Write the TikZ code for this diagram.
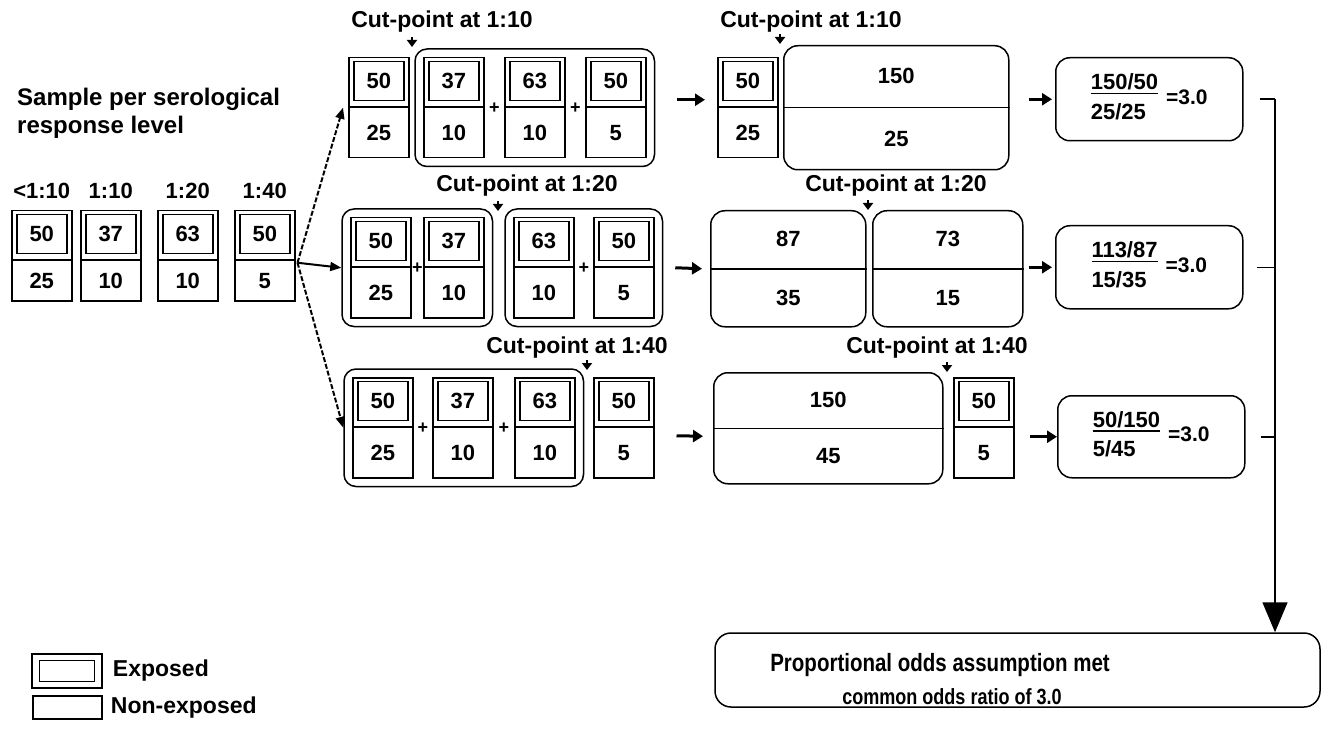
\documentclass[tikz,border=0pt]{standalone}
\usepackage{fontspec}
\setmainfont{Liberation Sans}
\newfontfamily\narrowfont{Liberation Sans}[FakeStretch=0.82]
\usetikzlibrary{arrows.meta,calc,fit,positioning}
\setlength{\arrayrulewidth}{1.5pt}

\tikzset{
  cellbox/.style={draw, line width=1.5pt, minimum width=60pt, minimum height=100pt, inner sep=0pt, anchor=north west},
  expbox/.style={draw, line width=1.5pt, minimum width=50pt, minimum height=39pt, inner sep=0pt},
  num/.style={font=\fontsize{22}{26}\selectfont\bfseries, inner sep=0pt},
  group/.style={draw, line width=1.5pt, rounded corners=12pt, inner sep=8pt},
  pool/.style={draw, line width=1.5pt, rounded corners=14pt, inner sep=0pt, anchor=north west},
  result/.style={draw, line width=1.5pt, rounded corners=14pt, minimum width=187pt, minimum height=83pt, anchor=north west, num},
  cutlabel/.style={font=\fontsize{23}{27}\selectfont\bfseries, inner sep=0pt},
  keytext/.style={font=\fontsize{23}{27}\selectfont\bfseries, inner sep=0pt},
  plus/.style={font=\fontsize{18}{18}\selectfont\bfseries, inner sep=0pt},
  cutmark/.style={line width=2.5pt, -{Triangle[length=7pt,width=10pt]}},
  fat/.style={line width=3pt, -{Triangle[length=10pt,width=12pt]}},
  fan/.style={line width=2pt, dash pattern=on 5pt off 2pt, -{Triangle[length=11pt,width=9pt]}},
}

% one serological level: exposed on top, non-exposed below
\newcommand{\gridcell}[6][100]{%
  \node[cellbox, minimum height=#1pt] (#2) at (#3,#4) {};
  \draw[line width=1.5pt] ([yshift=-50pt]#2.north west) -- ([yshift=-50pt]#2.north east);
  \node[expbox, num] (#2e) at ([yshift=-24pt]#2.north) {#5};
  \node[num] (#2n) at ($([yshift=-50pt]#2.north)!0.5!(#2.south)$) {#6};
}
% pooled levels
\newcommand{\poolbox}[7]{%
  \node[pool, minimum width=#4pt, minimum height=#5pt] (#1) at (#2,#3) {};
  \draw[line width=1.5pt] (#1.west) -- (#1.east);
  \node[num] (#1t) at ($(#1.north)!0.5!(#1.center)$) {#6};
  \node[num] (#1b) at ($(#1.south)!0.5!(#1.center)$) {#7};
}
\newcommand{\oddsratio}[2]{\begin{tabular}{@{}l@{}}#1\\[-5pt]\hline\rule{0pt}{25pt}#2\end{tabular}\hspace{8pt}{\fontsize{21}{25}\selectfont=3.0}}

\begin{document}
\begin{tikzpicture}[x=1pt,y=-1pt]
  \useasboundingbox (0,0) rectangle (1329,735);

  % sample per level
  \node[anchor=base west, align=left, inner sep=0pt, font=\fontsize{24}{28}\selectfont\bfseries] (title) at (17,134) {Sample per serological\\response level};
  \gridcell[90]{L1}{11}{210}{50}{25}
  \gridcell[90]{L2}{80}{210}{37}{10}
  \gridcell[90]{L3}{157}{210}{63}{10}
  \gridcell[90]{L4}{234}{210}{50}{5}
  \node[num, above=11pt of L1] (lv1) {<1:10};
  \node[num, above=11pt of L2] (lv2) {1:10};
  \node[num, above=11pt of L3] (lv3) {1:20};
  \node[num, above=11pt of L4] (lv4) {1:40};

  % cut-point at 1:10
  \gridcell{a1}{348}{57}{50}{25}
  \gridcell{a2}{423}{57}{37}{10}
  \gridcell{a3}{504}{57}{63}{10}
  \gridcell{a4}{585}{57}{50}{5}
  \node[group, fit=(a2)(a4)] (ga) {};
  \node[plus] (pa1) at ($(a2.east)!0.5!(a3.west)$) {+};
  \node[plus] (pa2) at ($(a3.east)!0.5!(a4.west)$) {+};
  \gridcell{a5}{717}{57}{50}{25}
  \poolbox{b1}{783}{45}{225}{124}{150}{25}
  \node[result] (res1) at (1055,57) {\oddsratio{150/50}{25/25}};

  % cut-point at 1:20
  \gridcell{c1}{350}{217}{50}{25}
  \gridcell{c2}{423}{217}{37}{10}
  \gridcell{c3}{513}{217}{63}{10}
  \gridcell{c4}{593}{217}{50}{5}
  \node[group, fit=(c1)(c2)] (gc1) {};
  \node[group, fit=(c3)(c4)] (gc2) {};
  \node[plus] (pc1) at ($(c1.east)!0.5!(c2.west)$) {+};
  \node[plus] (pc2) at ($(c3.east)!0.5!(c4.west)$) {+};
  \poolbox{d1}{710}{210}{155}{116}{87}{35}
  \poolbox{d2}{872}{210}{150}{116}{73}{15}
  \node[result] (res2) at (1055,225) {\oddsratio{113/87}{15/35}};

  % cut-point at 1:40
  \gridcell{e1}{352}{377}{50}{25}
  \gridcell{e2}{432}{377}{37}{10}
  \gridcell{e3}{514}{377}{63}{10}
  \gridcell{e4}{593}{377}{50}{5}
  \node[group, fit=(e1)(e3)] (ge) {};
  \node[plus] (pe1) at ($(e1.east)!0.5!(e2.west)$) {+};
  \node[plus] (pe2) at ($(e2.east)!0.5!(e3.west)$) {+};
  \poolbox{f1}{713}{372}{229}{111}{150}{45}
  \gridcell{e5}{953}{377}{50}{5}
  \node[result, minimum height=82pt] (res3) at (1057,395) {\oddsratio{50/150}{5/45}};

  % cut-point markers and labels
  \coordinate (k1) at (412,47);
  \coordinate (k2) at (780,44);
  \coordinate (k3) at (498,211);
  \coordinate (k4) at (868,210);
  \coordinate (k5) at (587,370);
  \coordinate (k6) at (947,372);
  \foreach \k in {k1,k2,k3,k4,k5,k6}
    \draw[cutmark] ([yshift=10pt]\k) -- (\k);
  \node[cutlabel] (cl1) at (442,22) {Cut-point at 1:10};
  \node[cutlabel] (cl2) at (811,22) {Cut-point at 1:10};
  \node[cutlabel] (cl3) at (527,186) {Cut-point at 1:20};
  \node[cutlabel] (cl4) at (896,186) {Cut-point at 1:20};
  \node[cutlabel] (cl5) at (577,348) {Cut-point at 1:40};
  \node[cutlabel] (cl6) at (937,348) {Cut-point at 1:40};

  % arrows
  \coordinate (fan) at ([shift={(2pt,-7pt)}]L4.east);
  \draw[fan] (fan) -- ([xshift=-5pt]a1.west);
  \draw[line width=2pt, -{Triangle[length=11pt,width=9pt]}] (fan) -- (gc1.west);
  \draw[fan] (fan) -- (ge.west);
  \draw[fat] ([shift={(22pt,8pt)}]ga.east) -- ([shift={(-12pt,8pt)}]a5.west);
  \draw[fat] ($(b1.east |- res1.west)+(19pt,0)$) -- ([xshift=-3pt]res1.west);
  \draw[fat] ([xshift=12pt]gc2.east) -- ([xshift=-8pt]d1.west);
  \draw[fat] ($(d2.east |- res2.west)+(5pt,0)$) -- ([xshift=-3pt]res2.west);
  \draw[fat] ([shift={(22pt,-8pt)}]e4.east) -- ([shift={(-10pt,-8pt)}]f1.west);
  \draw[fat] ($(e5.east |- res3.west)+(15pt,0)$) -- (res3.west);

  % common result
  \node[draw, line width=1.5pt, rounded corners=16pt, minimum width=605pt, minimum height=74pt] (final) at (1017.5,670) {};
  \node[font=\fontsize{25}{30}\narrowfont\bfseries, inner sep=0pt] (fin1) at (940,665) {Proportional odds assumption met};
  \node[font=\fontsize{22}{26}\narrowfont\bfseries, inner sep=0pt] (fin2) at (952,697) {common odds ratio of 3.0};
  \coordinate (bus) at (1275,96);
  \draw[line width=1.5pt] ([xshift=16pt]res1.east) -- (res1.east -| bus);
  \draw[line width=1.5pt] ([xshift=13pt]res2.east) -- (res2.east -| bus);
  \draw[line width=1.5pt] ([xshift=15pt]res3.east) -- (res3.east -| bus);
  \draw[line width=1.5pt, -{Triangle[length=30pt,width=25pt]}] (res1.east -| bus) -- (final.north -| bus);

  % key
  \node[expbox, minimum width=70pt, minimum height=34pt] (keyE) at (67,671) {};
  \node[expbox, minimum width=55pt, minimum height=21pt] (keyEi) at (keyE.center) {};
  \node[keytext, right=10pt of keyE] (keyEt) {Exposed};
  \node[expbox, minimum width=69pt, minimum height=23pt] (keyN) at (67.5,707.5) {};
  \node[keytext, right=8pt of keyN] (keyNt) {Non-exposed};
\end{tikzpicture}
\end{document}
